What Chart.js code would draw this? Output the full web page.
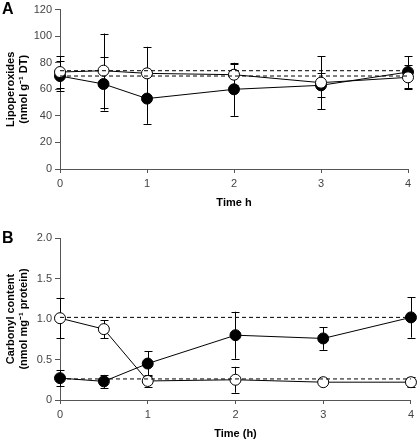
<!DOCTYPE html>
<html>
<head>
<meta charset="utf-8">
<script src="https://cdn.jsdelivr.net/npm/chart.js@4/dist/chart.umd.min.js"></script>
<style>
  body { margin: 0; background: #fff; }
  #wrap { position: relative; width: 418px; height: 442px; }
  .panel { position: absolute; left: 0; width: 418px; }
  .letter { position: absolute; left: 2px; font: bold 16px "Liberation Sans", Arial, sans-serif; color: #000; }
</style>
</head>
<body>
<div id="wrap">
  <div class="panel" style="top:0;height:220px"><canvas id="chartA" width="418" height="220"></canvas></div>
  <div class="panel" style="top:220px;height:222px"><canvas id="chartB" width="418" height="222"></canvas></div>
  <div class="letter" style="top:0px">A</div>
  <div class="letter" style="top:229px">B</div>
</div>
<script>
// time points (h)
const times = [0, 0.5, 1, 2, 3, 4];

// panel A: lipoperoxides
const lipoFilled = [70, 64, 53, 60, 63, 73];
const lipoFilledErr = [11, 20, 19, 20, 9, 12];
const lipoOpen = [73, 74, 72, 71, 65, 69];
const lipoOpenErr = [12, 28, 20, 8, 20, 9];
const lipoRefs = [74, 70];

// panel B: carbonyl content
const carbFilled = [0.27, 0.23, 0.45, 0.80, 0.76, 1.02];
const carbFilledErr = [0.1, 0.08, 0.15, 0.29, 0.14, 0.25];
const carbOpen = [1.01, 0.875, 0.235, 0.25, 0.22, 0.22];
const carbOpenErr = [0.25, 0.11, 0.07, 0.16, 0.04, 0.06];
const carbRefs = [1.02, 0.26];

const FONT = "'Liberation Sans', Arial, sans-serif";

// error bars drawn under the points
const errorBars = {
	id: "errorBars",
	beforeDatasetsDraw(chart) {
		const ctx = chart.ctx;
		const xs = chart.scales.x;
		const ys = chart.scales.y;
		ctx.save();
		ctx.strokeStyle = "#000";
		ctx.lineWidth = 1;
		chart.data.datasets.forEach((ds) => {
			if (!ds.errors) return;
			ds.data.forEach((p, i) => {
				const e = ds.errors[i];
				const x = Math.round(xs.getPixelForValue(p.x)) + 0.5;
				const y1 = ys.getPixelForValue(p.y - e);
				const y2 = ys.getPixelForValue(p.y + e);
				ctx.beginPath();
				ctx.moveTo(x, y1);
				ctx.lineTo(x, y2);
				ctx.moveTo(x - 4, Math.round(y1) + 0.5);
				ctx.lineTo(x + 4, Math.round(y1) + 0.5);
				ctx.moveTo(x - 4, Math.round(y2) + 0.5);
				ctx.lineTo(x + 4, Math.round(y2) + 0.5);
				ctx.stroke();
			});
		});
		ctx.restore();
	},
};

function pts(vals) {
	return times.map((t, i) => ({ x: t, y: vals[i] }));
}

function refLine(v) {
	return {
		data: [{ x: 0, y: v }, { x: 4, y: v }],
		borderColor: "#000",
		borderWidth: 1,
		borderDash: [4, 3],
		pointRadius: 0,
	};
}

function series(vals, errs, filled) {
	return {
		data: pts(vals),
		errors: errs,
		borderColor: "#000",
		borderWidth: 1,
		pointRadius: 5.5,
		pointBorderWidth: 1,
		pointBackgroundColor: filled ? "#000" : "#fff",
		pointBorderColor: "#000",
	};
}

function makeChart(id, opts) {
	return new Chart(document.getElementById(id), {
		type: "line",
		data: {
			datasets: [
				...opts.refs.map(refLine),
				series(opts.open, opts.openErr, false),
				series(opts.filled, opts.filledErr, true),
			],
		},
		options: {
			responsive: false,
			animation: false,
			clip: false,
			layout: { padding: { top: opts.top, right: opts.right, left: 0, bottom: 0 } },
			plugins: { legend: { display: false }, tooltip: { enabled: false } },
			scales: {
				x: {
					type: "linear",
					min: 0,
					max: 4,
					grid: { drawOnChartArea: false, drawTicks: true, tickLength: 4, color: "#555" },
					border: { color: "#555", width: 1 },
					ticks: { stepSize: 1, color: "#444", font: { family: FONT, size: 11 }, padding: 4 },
					title: { display: true, text: opts.xTitle, color: "#000", font: { family: FONT, size: 11, weight: "bold" }, padding: { top: 4, bottom: opts.titlePad } },
					afterFit: (s) => { s.height = opts.xHeight; },
				},
				y: {
					min: 0,
					max: opts.yMax,
					grid: { drawOnChartArea: false, drawTicks: true, tickLength: 5, color: "#555" },
					border: { color: "#555", width: 1 },
					ticks: {
						stepSize: opts.yStep,
						color: "#444",
						font: { family: FONT, size: 11 },
						padding: 3,
						callback: opts.yFmt,
					},
					title: { display: true, text: opts.yTitle, color: "#000", font: { family: FONT, size: 11, weight: "bold" }, padding: { bottom: 2 } },
					afterFit: (s) => { s.width = 60; },
				},
			},
		},
		plugins: [errorBars],
	});
}

makeChart("chartA", {
	refs: lipoRefs,
	open: lipoOpen, openErr: lipoOpenErr,
	filled: lipoFilled, filledErr: lipoFilledErr,
	top: 7, right: 10, xHeight: 51, titlePad: 10,
	yMax: 120, yStep: 20,
	yFmt: (v) => v,
	xTitle: "Time h",
	yTitle: ["Lipoperoxides", "(nmol g\u207B\u00B9 DT)"],
});

makeChart("chartB", {
	refs: carbRefs,
	open: carbOpen, openErr: carbOpenErr,
	filled: carbFilled, filledErr: carbFilledErr,
	top: 18, right: 6, xHeight: 42, titlePad: 1,
	yMax: 2, yStep: 0.5,
	yFmt: (v) => (v === 0 ? "0" : v.toFixed(1)),
	xTitle: "Time (h)",
	yTitle: ["Carbonyl content", "(nmol mg\u207B\u00B9 protein)"],
});
</script>
</body>
</html>
